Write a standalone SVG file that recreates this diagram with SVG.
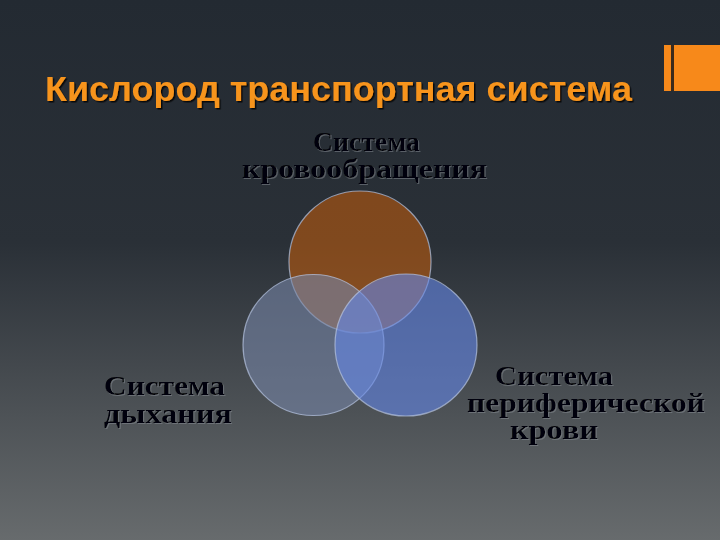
<svg xmlns="http://www.w3.org/2000/svg" width="720" height="540" viewBox="0 0 720 540">
<defs>
<linearGradient id="bg" x1="0" y1="0" x2="0" y2="1">
<stop offset="0" stop-color="#232a32"/>
<stop offset="0.45" stop-color="#2a3037"/>
<stop offset="1" stop-color="#676b6d"/>
</linearGradient>
<filter id="tsh" x="-5%" y="-20%" width="110%" height="150%">
<feDropShadow dx="1.5" dy="1.5" stdDeviation="0.6" flood-color="#000" flood-opacity="0.8"/>
</filter>
<filter id="lsh" x="-5%" y="-20%" width="110%" height="150%">
<feDropShadow dx="1" dy="1" stdDeviation="0.5" flood-color="#8a9098" flood-opacity="0.5"/>
</filter>
</defs>
<style>
.title{font-family:"Liberation Sans",Arial,sans-serif;font-weight:bold;font-size:35px;fill:#f7941d}
.lbl{font-family:"Liberation Serif","Times New Roman",serif;font-weight:bold;font-size:28px;fill:#050608}
.c{stroke:#b8c6e4;stroke-opacity:0.7;stroke-width:1.2}
</style>
<rect x="0" y="0" width="720" height="540" fill="url(#bg)"/>
<g id="accent">
<rect x="664" y="45" width="56" height="46" fill="#f7891a"/>
<rect x="671" y="45" width="3" height="46" fill="#3a2a1c"/>
</g>
<g id="title">
<text class="title" x="45" y="101" textLength="587" lengthAdjust="spacingAndGlyphs" filter="url(#tsh)">Кислород транспортная система</text>
</g>
<g id="circles">
<circle id="circle-top" class="c" cx="360" cy="262" r="71" fill="#bb5a0e" fill-opacity="0.6"/>
<circle id="circle-left" class="c" cx="313.5" cy="345" r="70.5" fill="#7685a7" fill-opacity="0.6"/>
<circle id="circle-right" class="c" cx="406" cy="345" r="71" fill="#6487e7" fill-opacity="0.6"/>
</g>
<g id="label-top" filter="url(#lsh)">
<text class="lbl" x="313" y="151" textLength="107" lengthAdjust="spacingAndGlyphs">Система</text>
<text class="lbl" x="242" y="178" textLength="245" lengthAdjust="spacingAndGlyphs">кровообращения</text>
</g>
<g id="label-left" filter="url(#lsh)">
<text class="lbl" x="104" y="395" textLength="121" lengthAdjust="spacingAndGlyphs">Система</text>
<text class="lbl" x="104" y="423" textLength="128" lengthAdjust="spacingAndGlyphs">дыхания</text>
</g>
<g id="label-right" filter="url(#lsh)">
<text class="lbl" x="495" y="385" textLength="118" lengthAdjust="spacingAndGlyphs">Система</text>
<text class="lbl" x="467" y="412" textLength="238" lengthAdjust="spacingAndGlyphs">периферической</text>
<text class="lbl" x="510" y="439" textLength="88" lengthAdjust="spacingAndGlyphs">крови</text>
</g>
</svg>
